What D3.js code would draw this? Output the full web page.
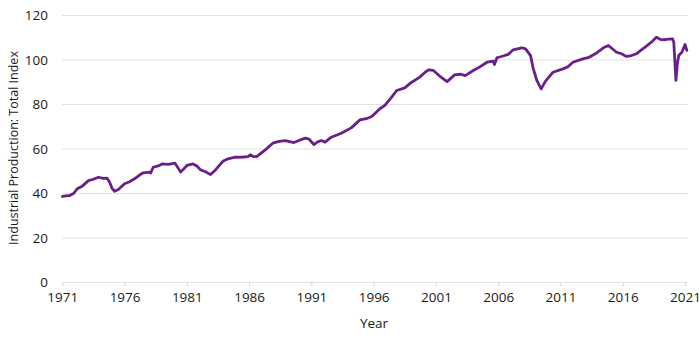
<!DOCTYPE html>
<html>
<head>
<meta charset="utf-8">
<script src="https://d3js.org/d3.v7.min.js"></script>
<style>
  html, body { margin: 0; padding: 0; background: #fff; }
  svg { display: block; }
  text { font-family: "Open Sans", "Noto Sans", sans-serif; fill: #1a1a1a; }
</style>
</head>
<body>
<svg id="chart" width="700" height="347"></svg>
<script>
const years = [1971.0,1971.3,1971.6,1971.9,1972.2,1972.6,1973.1,1973.5,1973.9,1974.3,1974.6,1974.8,1975.0,1975.2,1975.5,1976.0,1976.4,1976.8,1977.2,1977.5,1978.0,1978.1,1978.3,1978.7,1979.0,1979.5,1980.05,1980.3,1980.5,1980.8,1981.0,1981.5,1981.8,1982.1,1982.5,1982.9,1983.3,1983.9,1984.3,1984.9,1985.5,1985.9,1986.1,1986.3,1986.6,1987.3,1987.9,1988.4,1988.9,1989.6,1990.0,1990.5,1990.8,1991.2,1991.5,1991.8,1992.1,1992.6,1993.0,1993.4,1994.2,1994.9,1995.4,1995.85,1996.5,1996.9,1997.4,1997.85,1998.5,1999.0,1999.7,2000.2,2000.4,2000.8,2001.3,2001.9,2002.5,2003.0,2003.35,2004.0,2004.5,2005.1,2005.6,2005.7,2005.9,2006.4,2006.8,2007.2,2007.9,2008.2,2008.6,2008.8,2009.1,2009.45,2009.8,2010.4,2011.2,2011.6,2012.0,2012.8,2013.3,2013.8,2014.45,2014.85,2015.5,2015.9,2016.3,2016.7,2017.1,2017.5,2017.8,2018.3,2018.7,2019.0,2019.3,2019.7,2020.0,2020.1,2020.27,2020.4,2020.5,2020.75,2021.0,2021.15];
const indexValues = [38.7,38.9,39.1,40.0,42.1,43.3,45.8,46.4,47.3,46.8,46.9,45.1,42.3,41.0,41.8,44.4,45.3,46.6,48.3,49.3,49.6,49.2,51.8,52.4,53.3,53.1,53.6,51.5,49.6,51.3,52.6,53.3,52.4,50.6,49.8,48.5,50.6,54.5,55.6,56.3,56.4,56.6,57.4,56.7,56.6,59.6,62.6,63.4,63.8,62.9,63.8,64.9,64.5,62.0,63.2,63.8,63.1,65.3,66.2,67.1,69.5,73.1,73.6,74.6,78.1,79.6,83.0,86.3,87.5,89.8,92.3,94.8,95.6,95.3,92.8,90.3,93.3,93.6,93.0,95.3,96.8,99.0,99.5,98.0,101.0,101.8,102.5,104.6,105.5,105.0,102.0,96.5,90.8,87.0,90.5,94.5,96.0,97.0,99.0,100.5,101.2,102.8,105.5,106.5,103.5,102.8,101.6,102.0,102.8,104.5,105.8,108.0,110.2,109.3,109.1,109.4,109.5,108.0,90.8,99.0,102.0,103.5,107.0,104.3];
const xTickYears = [1971,1976,1981,1986,1991,1996,2001,2006,2011,2016,2021];
const yTickValues = [0,20,40,60,80,100,120];
const yTitle = "Industrial Production: Total Index";
const xTitle = "Year";

const data = years.map((y, i) => ({ year: y, value: indexValues[i] }));

const svg = d3.select("#chart");
const x = d3.scaleLinear().domain([1971, 2021]).range([62.3, 685]);
const y = d3.scaleLinear().domain([0, 120]).range([282.5, 15.5]);

// gridlines
svg.append("g")
  .selectAll("line")
  .data(yTickValues)
  .join("line")
  .attr("x1", 62)
  .attr("x2", 688)
  .attr("y1", d => y(d))
  .attr("y2", d => y(d))
  .attr("stroke", "#e2e2e2")
  .attr("stroke-width", 1);

// y tick labels
svg.append("g")
  .selectAll("text")
  .data(yTickValues)
  .join("text")
  .attr("x", 48)
  .attr("y", d => y(d))
  .attr("dy", "0.35em")
  .attr("text-anchor", "end")
  .style("font-size", "13.5px")
  .text(d => d);

// x axis
const xAxis = d3.axisBottom(x)
  .tickValues(xTickYears)
  .tickFormat(d3.format("d"))
  .tickSize(4)
  .tickPadding(6);
const gx = svg.append("g")
  .attr("transform", `translate(0,${y(0)})`)
  .call(xAxis);
gx.select(".domain").remove();
gx.selectAll(".tick line").attr("stroke", "#d6d6d6");
gx.selectAll(".tick text")
  .style("font-family", '"Open Sans", "Noto Sans", sans-serif')
  .style("font-size", "13.5px")
  .attr("fill", "#1a1a1a");

// line
const line = d3.line()
  .x(d => x(d.year))
  .y(d => y(d.value))
  .curve(d3.curveLinear);

svg.append("path")
  .datum(data)
  .attr("fill", "none")
  .attr("stroke", "#6a1f89")
  .attr("stroke-width", 2.8)
  .attr("stroke-linejoin", "round")
  .attr("stroke-linecap", "round")
  .attr("d", line);

// titles
svg.append("text")
  .attr("transform", "translate(14,148) rotate(-90)")
  .attr("text-anchor", "middle")
  .attr("dy", "0.35em")
  .style("font-size", "12.5px")
  .text(yTitle);

svg.append("text")
  .attr("x", 374)
  .attr("y", 323)
  .attr("dy", "0.35em")
  .attr("text-anchor", "middle")
  .style("font-size", "13.5px")
  .text(xTitle);
</script>
</body>
</html>
